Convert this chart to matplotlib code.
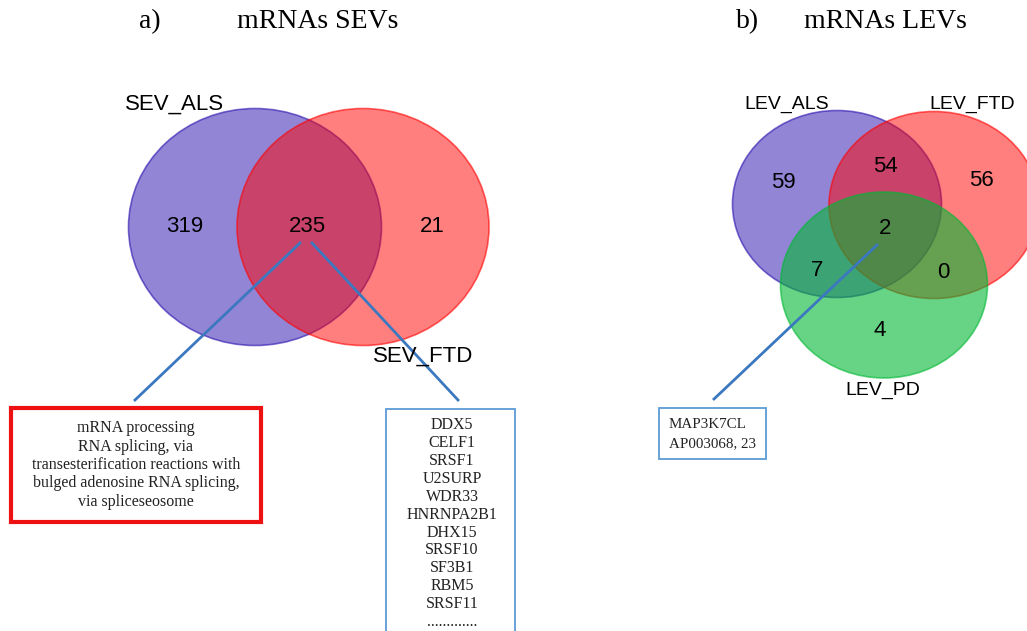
import matplotlib.pyplot as plt
from matplotlib.patches import Ellipse, Rectangle

# set names and region counts
sev_sets = ['SEV_ALS', 'SEV_FTD']
sev_counts = [319, 235, 21]          # ALS only, ALS & FTD, FTD only

lev_sets = ['LEV_ALS', 'LEV_FTD', 'LEV_PD']
lev_regions = ['100', '110', '010', '111', '101', '011', '001']
lev_counts = [59, 54, 56, 2, 7, 0, 4]

go_terms = ['mRNA processing',
            'RNA splicing, via',
            'transesterification reactions with',
            'bulged adenosine RNA splicing,',
            'via spliceseosome']
shared_genes = ['DDX5', 'CELF1', 'SRSF1', 'U2SURP', 'WDR33', 'HNRNPA2B1',
                'DHX15', 'SRSF10', 'SF3B1', 'RBM5', 'SRSF11', '.............']
core_genes = ['MAP3K7CL', 'AP003068, 23']

sans = 'Liberation Sans'
serif = 'Liberation Serif'

fig = plt.figure(figsize=(10.27, 6.31), dpi=100)
ax = fig.add_axes([0, 0, 1, 1])
ax.set_xlim(0, 1027)
ax.set_ylim(631, 0)
ax.axis('off')

purple = (0.16, 0.05, 0.68)
red = (1.0, 0.0, 0.0)
green = (0.0, 0.72, 0.2)
link = '#3b78bf'


def circle(cx, cy, w, h, color, alpha=0.5):
    ax.add_patch(Ellipse((cx, cy), w, h, facecolor=color, alpha=alpha,
                         edgecolor='none'))
    ax.add_patch(Ellipse((cx, cy), w, h, facecolor='none',
                         edgecolor=color, alpha=0.6, lw=1.2))


# a) two-set diagram
ax.text(150, 22, 'a)', fontsize=20, family=serif, ha='center', va='center')
ax.text(318, 22, 'mRNAs SEVs', fontsize=20, family=serif, ha='center', va='center')
circle(255, 227, 253, 237, purple)
circle(363, 227, 252, 237, red)
ax.text(175, 104, sev_sets[0], fontsize=16, family=sans, ha='center', va='center')
ax.text(423, 356, sev_sets[1], fontsize=16, family=sans, ha='center', va='center')
for x, n in zip([185, 307, 432], sev_counts):
    ax.text(x, 226, str(n), fontsize=16, family=sans, ha='center', va='center')

ax.plot([300, 135], [243, 400], color=link, lw=2)
ax.plot([312, 458], [243, 400], color=link, lw=2)

ax.add_patch(Rectangle((11, 408), 250, 114, facecolor='white',
                       edgecolor='#ee1111', lw=3, zorder=3))
ax.text(136, 465, '\n'.join(go_terms), fontsize=11.5, family=serif,
        ha='center', va='center', linespacing=1.19, color='#222222', zorder=4)

ax.add_patch(Rectangle((386, 409), 129, 240, facecolor='white',
                       edgecolor='#5b9bd5', lw=1.3, zorder=3))
ax.text(452, 417, '\n'.join(shared_genes), fontsize=11.5, family=serif,
        ha='center', va='top', linespacing=1.16, color='#222222', zorder=4)

# b) three-set diagram
ax.text(748, 22, 'b)', fontsize=20, family=serif, ha='center', va='center')
ax.text(885, 22, 'mRNAs LEVs', fontsize=20, family=serif, ha='center', va='center')
circle(837, 204, 209, 187, purple)
circle(934, 205, 210, 187, red)
circle(884, 285, 207, 186, green, alpha=0.6)
ax.text(787, 104, lev_sets[0], fontsize=14, family=sans, ha='center', va='center')
ax.text(972, 104, lev_sets[1], fontsize=14, family=sans, ha='center', va='center')
ax.text(883, 390, lev_sets[2], fontsize=14, family=sans, ha='center', va='center')
lev_pos = {'100': (783, 183), '110': (885, 166), '010': (981, 181),
           '111': (885, 228), '101': (817, 270), '011': (943, 272),
           '001': (880, 331)}
for region, n in zip(lev_regions, lev_counts):
    x, y = lev_pos[region]
    ax.text(x, y, str(n), fontsize=16, family=sans, ha='center', va='center')

ax.plot([877, 714], [245, 399], color=link, lw=2)
ax.add_patch(Rectangle((659, 408), 107, 51, facecolor='white',
                       edgecolor='#5b9bd5', lw=1.3, zorder=3))
ax.text(669, 434, '\n'.join(core_genes), fontsize=10.8, family=serif,
        ha='left', va='center', linespacing=1.6, color='#222222', zorder=4)

fig.savefig('out.png', dpi=100)
